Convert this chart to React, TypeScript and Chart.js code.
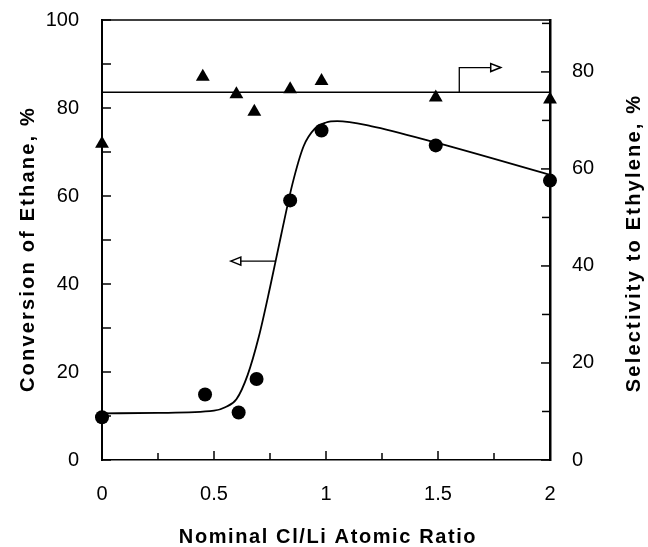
import React, { useEffect, useRef } from "react";
import { Chart, registerables } from "chart.js";

Chart.register(...registerables);

// Measured conversion of ethane (left axis, %)
const convRatio = [0, 0.46, 0.61, 0.69, 0.84, 0.98, 1.49, 2.0];
const conversion = [9.7, 14.9, 10.8, 18.4, 59.0, 74.9, 71.5, 63.5];

// Measured selectivity to ethylene (right axis, %)
const selRatio = [0, 0.45, 0.6, 0.68, 0.84, 0.98, 1.49, 2.0];
const selectivity = [65.2, 79.0, 75.4, 71.8, 76.4, 78.1, 74.7, 74.3];

// Hand-drawn trend curve through the conversion data
const fitRatio = [0, 0.25, 0.5, 0.55, 0.6, 0.65, 0.7, 0.75, 0.8, 0.85, 0.9, 0.95, 1.0, 1.05, 1.2, 1.5, 2.0];
const fitConversion = [10.6, 10.7, 11.2, 12.0, 13.8, 19.3, 28.0, 39.2, 51.2, 62.7, 71.3, 75.3, 76.7, 77.0, 75.9, 72.0, 64.8];

// Average selectivity line (right axis)
const meanRatio = [0, 2];
const meanSelectivity = [75.8, 75.8];

// Axis-indicator arrows
const leftArrowRatio = [0.775, 0.575];
const leftArrowValue = [45.2, 45.2];
const rightArrowRatio = [1.595, 1.595, 1.78];
const rightArrowValue = [75.8, 80.9, 80.9];

// Ticks
const xMajorTicks = [0, 0.5, 1, 1.5, 2];
const xMinorTicks = [0.25, 0.75, 1.25, 1.75];
const yMinorTicks = [10, 30, 50, 70, 90];
const y1MinorTicks = [10, 30, 50, 70, 90];

const xTitle = "Nominal Cl/Li Atomic Ratio";
const yTitle = "Conversion of Ethane, %";
const y1Title = "Selectivity to Ethylene, %";

const pts = (xs: number[], ys: number[]) => xs.map((x, i) => ({ x, y: ys[i] }));

const TICK_FONT = { family: "'Liberation Sans', Arial, sans-serif", size: 20 };
const TITLE_FONT = "bold 20px 'Liberation Sans', Arial, sans-serif";

const framePlugin = {
  id: "frame",
  afterDraw(chart: any) {
    const { ctx, chartArea: a, scales } = chart;
    const x = scales.x, y = scales.y, y1 = scales.y1;
    ctx.save();
    ctx.strokeStyle = "#000";
    ctx.fillStyle = "#000";
    // top border
    ctx.lineWidth = 1.5;
    ctx.beginPath();
    ctx.moveTo(a.left, a.top);
    ctx.lineTo(a.right, a.top);
    ctx.stroke();

    // inward tick marks
    ctx.lineWidth = 1.5;
    const tick = (x0: number, y0: number, x1: number, y1p: number) => {
      ctx.beginPath();
      ctx.moveTo(x0, y0);
      ctx.lineTo(x1, y1p);
      ctx.stroke();
    };
    for (const v of xMajorTicks) {
      const px = x.getPixelForValue(v);
      tick(px, a.bottom, px, a.bottom - 9);
    }
    for (const v of xMinorTicks) {
      const px = x.getPixelForValue(v);
      tick(px, a.bottom, px, a.bottom - 7);
    }
    for (const t of y.ticks) {
      const py = y.getPixelForValue(t.value);
      tick(a.left, py, a.left + 9, py);
    }
    for (const v of yMinorTicks) {
      const py = y.getPixelForValue(v);
      tick(a.left, py, a.left + 9, py);
    }
    for (const t of y1.ticks) {
      const py = y1.getPixelForValue(t.value);
      tick(a.right, py, a.right - 9, py);
    }
    for (const v of y1MinorTicks) {
      const py = y1.getPixelForValue(v);
      tick(a.right, py, a.right - 8, py);
    }

    // arrowheads
    const head = (px: number, py: number, dir: number) => {
      ctx.lineWidth = 1.5;
      ctx.beginPath();
      ctx.moveTo(px, py);
      ctx.lineTo(px - dir * 10, py - 4);
      ctx.lineTo(px - dir * 10, py + 4);
      ctx.closePath();
      ctx.fillStyle = "#fff";
      ctx.fill();
      ctx.stroke();
    };
    const la = leftArrowRatio.length - 1;
    head(x.getPixelForValue(leftArrowRatio[la]), y.getPixelForValue(leftArrowValue[la]), -1);
    const ra = rightArrowRatio.length - 1;
    head(x.getPixelForValue(rightArrowRatio[ra]), y1.getPixelForValue(rightArrowValue[ra]), 1);

    // titles
    ctx.fillStyle = "#000";
    ctx.font = TITLE_FONT;
    (ctx as any).letterSpacing = "1.6px";
    ctx.textAlign = "center";
    ctx.textBaseline = "middle";
    ctx.fillText(xTitle, 328, 537);
    (ctx as any).letterSpacing = "2.2px";
    ctx.save();
    ctx.translate(28, 249);
    ctx.rotate(-Math.PI / 2);
    ctx.fillText(yTitle, 0, 0);
    ctx.restore();
    ctx.save();
    ctx.translate(634, 243);
    ctx.rotate(-Math.PI / 2);
    ctx.fillText(y1Title, 0, 0);
    ctx.restore();
    (ctx as any).letterSpacing = "0px";
    ctx.restore();
  },
};

const fmt = (v: any) => String(Number(v));

export default function App() {
  const ref = useRef<HTMLCanvasElement>(null);
  useEffect(() => {
    if (!ref.current) return;
    const chart = new Chart(ref.current, {
      type: "line",
      data: {
        datasets: [
          {
            label: "Conversion trend",
            data: pts(fitRatio, fitConversion),
            yAxisID: "y",
            borderColor: "#000",
            borderWidth: 1.8,
            pointRadius: 0,
            cubicInterpolationMode: "monotone",
            fill: false,
          },
          {
            label: "Mean selectivity",
            data: pts(meanRatio, meanSelectivity),
            yAxisID: "y1",
            borderColor: "#000",
            borderWidth: 1.5,
            pointRadius: 0,
            tension: 0,
          },
          {
            label: "left arrow",
            data: pts(leftArrowRatio, leftArrowValue),
            yAxisID: "y",
            borderColor: "#000",
            borderWidth: 1.3,
            pointRadius: 0,
            tension: 0,
          },
          {
            label: "right arrow",
            data: pts(rightArrowRatio, rightArrowValue),
            yAxisID: "y1",
            borderColor: "#000",
            borderWidth: 1.3,
            pointRadius: 0,
            tension: 0,
          },
          {
            label: "Conversion",
            data: pts(convRatio, conversion),
            yAxisID: "y",
            showLine: false,
            pointStyle: "circle",
            pointRadius: 7,
            pointBackgroundColor: "#000",
            pointBorderColor: "#000",
            pointBorderWidth: 0,
            clip: false as any,
          },
          {
            label: "Selectivity",
            data: pts(selRatio, selectivity),
            yAxisID: "y1",
            showLine: false,
            pointStyle: "triangle",
            pointRadius: 8,
            pointBackgroundColor: "#000",
            pointBorderColor: "#000",
            pointBorderWidth: 0,
            clip: false as any,
          },
        ],
      },
      options: {
        animation: false,
        responsive: true,
        maintainAspectRatio: false,
        layout: { padding: { top: 20, left: 0, right: 0, bottom: 0 } },
        plugins: { legend: { display: false }, tooltip: { enabled: false } },
        scales: {
          x: {
            type: "linear",
            min: 0,
            max: 2,
            grid: { display: false, drawTicks: false },
            border: { display: true, color: "#000", width: 1.5 },
            ticks: { stepSize: 0.5, color: "#000", font: TICK_FONT, padding: 22, maxRotation: 0, callback: fmt },
            afterFit: (s: any) => {
              s.height = 87;
              s.paddingLeft = 0;
              s.paddingRight = 0;
              s.paddingTop = 0;
              s.paddingBottom = 0;
            },
          },
          y: {
            type: "linear",
            position: "left",
            min: 0,
            max: 100,
            grid: { display: false, drawTicks: false },
            border: { display: true, color: "#000", width: 2 },
            ticks: { stepSize: 20, color: "#000", font: TICK_FONT, padding: 23, callback: fmt },
            afterFit: (s: any) => {
              s.width = 102;
              s.paddingTop = 0;
              s.paddingBottom = 0;
              s.paddingLeft = 0;
              s.paddingRight = 0;
            },
          },
          y1: {
            type: "linear",
            position: "right",
            min: 0,
            max: 90.7,
            grid: { display: false, drawTicks: false },
            border: { display: true, color: "#000", width: 2.5 },
            ticks: { stepSize: 20, includeBounds: false, color: "#000", font: TICK_FONT, padding: 22, callback: fmt },
            afterFit: (s: any) => {
              s.width = 98;
              s.paddingTop = 0;
              s.paddingBottom = 0;
              s.paddingLeft = 0;
              s.paddingRight = 0;
            },
          },
        },
      },
      plugins: [framePlugin],
    });
    return () => chart.destroy();
  }, []);
  return (
    <div style={{ position: "absolute", left: 0, top: 0, width: 648, height: 547, background: "#fff" }}>
      <canvas ref={ref} />
    </div>
  );
}
